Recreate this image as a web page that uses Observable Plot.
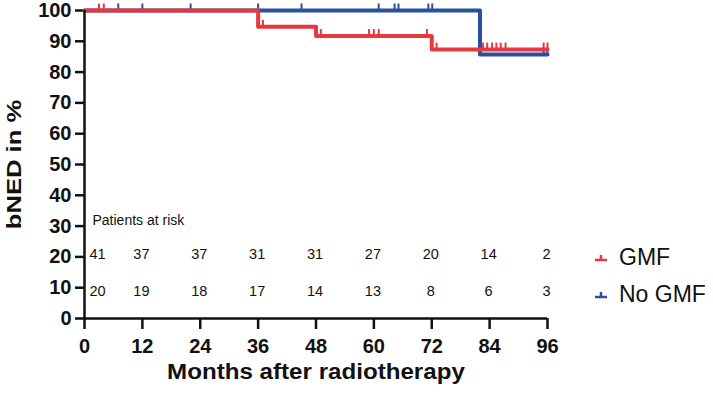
<!DOCTYPE html>
<html><head><meta charset="utf-8">
<script src="https://cdn.jsdelivr.net/npm/d3@7"></script>
<script src="https://cdn.jsdelivr.net/npm/@observablehq/plot@0.6"></script>
<style>
body{margin:0;background:#fff;}
#wrap{position:relative;width:713px;height:394px;overflow:hidden;}
.leg{position:absolute;left:594px;height:24px;display:flex;align-items:center;font-family:"Liberation Sans",Arial,sans-serif;font-size:23px;color:#111;line-height:1;}
.leg svg{margin-right:11px;}
</style></head><body><div id="wrap"></div>
<script>
const months = [0, 12, 24, 36, 48, 60, 72, 84, 96];
const yTicks = [0, 10, 20, 30, 40, 50, 60, 70, 80, 90, 100];
const groups = ["GMF", "No GMF"];
const colors = ["#e5393e", "#2c4f9f"];
// Kaplan-Meier steps
const gmfTimes = [0, 36, 48, 72, 96];
const gmfSurv = [100, 94.7, 91.7, 87.3, 87.3];
const noGmfTimes = [0, 82, 96];
const noGmfSurv = [100, 85.7, 85.7];
// censor marks (months)
const gmfCensor = [3, 4, 37, 49, 59, 60, 61, 71, 73, 82.6, 83.5, 84.5, 85.4, 86.3, 87.3, 95.2, 96];
const noGmfCensor = [7, 12, 22, 36, 45, 61, 64.3, 65.1, 71.3, 72.1, 95.2, 96];
// numbers at risk
const riskGMF = [41, 37, 37, 31, 31, 27, 20, 14, 2];
const riskNoGMF = [20, 19, 18, 17, 14, 13, 8, 6, 3];

function survAt(times, surv, t) {
  let s = surv[0];
  for (let i = 0; i < times.length; i++) if (times[i] <= t) s = surv[i];
  return s;
}
const curves = [
  {times: gmfTimes, surv: gmfSurv, censor: gmfCensor},
  {times: noGmfTimes, surv: noGmfSurv, censor: noGmfCensor}
].map((c, k) => ({
  group: groups[k], color: colors[k],
  line: c.times.map((t, i) => ({t, s: c.surv[i]})),
  cens: c.censor.map(t => ({t, s: survAt(c.times, c.surv, t)}))
}));
const riskRows = [riskGMF, riskNoGMF].flatMap((arr, k) =>
  arr.map((n, i) => ({month: months[i], n, row: k})));

const censorSymbol = {draw(ctx) { ctx.moveTo(0, 0); ctx.lineTo(0, -6); }};

const lineMarks = [];
for (const c of [curves[1], curves[0]]) {
  lineMarks.push(Plot.line(c.line, {x: "t", y: "s", curve: "step-after", stroke: c.color, strokeWidth: 4}));
  lineMarks.push(Plot.dot(c.cens, {x: "t", y: "s", symbol: censorSymbol, stroke: c.color, fill: "none", strokeWidth: 2, dy: -1}));
}

const chart = Plot.plot({
  width: 713, height: 394,
  marginLeft: 84, marginRight: 166, marginTop: 10, marginBottom: 76,
  style: {fontFamily: "'Liberation Sans', Arial, sans-serif", color: "#111", background: "#fff"},
  x: {domain: [0, 96]},
  y: {domain: [0, 100]},
  marks: [
    Plot.axisY(yTicks, {tickSize: 9, tickPadding: 4, fontSize: 20, fontWeight: "bold", strokeWidth: 2.5, label: null}),
    Plot.axisX(months, {tickSize: 11, tickPadding: 9, fontSize: 20, fontWeight: "bold", strokeWidth: 2.5, label: null}),
    Plot.text(["bNED in %"], {frameAnchor: "left", textAnchor: "middle", rotate: -90, dx: -70, fontSize: 20, fontWeight: "bold", className: "ytitle"}),
    Plot.text(["Months after radiotherapy"], {frameAnchor: "bottom", dy: 60, fontSize: 21, fontWeight: "bold", className: "xtitle"}),
    Plot.text(["Patients at risk"], {x: 0, y: 30, dx: 8, dy: -6, textAnchor: "start", fontSize: 14}),
    Plot.text(riskRows.filter(d => d.month === 0 && d.row === 0), {x: "month", y: 20, text: "n", dx: 13, dy: -3, fontSize: 14.5}),
    Plot.text(riskRows.filter(d => d.month > 0 && d.row === 0), {x: "month", y: 20, text: "n", dx: -1, dy: -3, fontSize: 14.5}),
    Plot.text(riskRows.filter(d => d.month === 0 && d.row === 1), {x: "month", y: 10, text: "n", dx: 13, dy: 4, fontSize: 14.5}),
    Plot.text(riskRows.filter(d => d.month > 0 && d.row === 1), {x: "month", y: 10, text: "n", dx: -1, dy: 4, fontSize: 14.5}),
    ...lineMarks,
    Plot.ruleX([0], {strokeWidth: 2.5}),
    Plot.ruleY([0], {strokeWidth: 2.5})
  ]
});
const wrap = document.getElementById("wrap");
wrap.appendChild(chart);
function stretch(sel, sx, sy) {
  chart.querySelectorAll(sel + " text").forEach(t => {
    const b = t.getBBox();
    const cx = b.x + b.width / 2, cy = b.y + b.height / 2;
    const tr = t.getAttribute("transform") || "";
    t.setAttribute("transform", `${tr} translate(${cx},${cy}) scale(${sx},${sy}) translate(${-cx},${-cy})`);
  });
}
stretch(".ytitle", 1.28, 1);
stretch(".xtitle", 1.15, 1.05);
const legTops = [245, 282];
groups.forEach((g, k) => {
  const d = document.createElement("div");
  d.className = "leg";
  d.style.top = legTops[k] + "px";
  d.innerHTML = `<svg width="14" height="10"><path d="M1,8H13M7,8V3" stroke="${colors[k]}" stroke-width="2.5" fill="none"/></svg><span>${g}</span>`;
  wrap.appendChild(d);
});
</script>
</body></html>
